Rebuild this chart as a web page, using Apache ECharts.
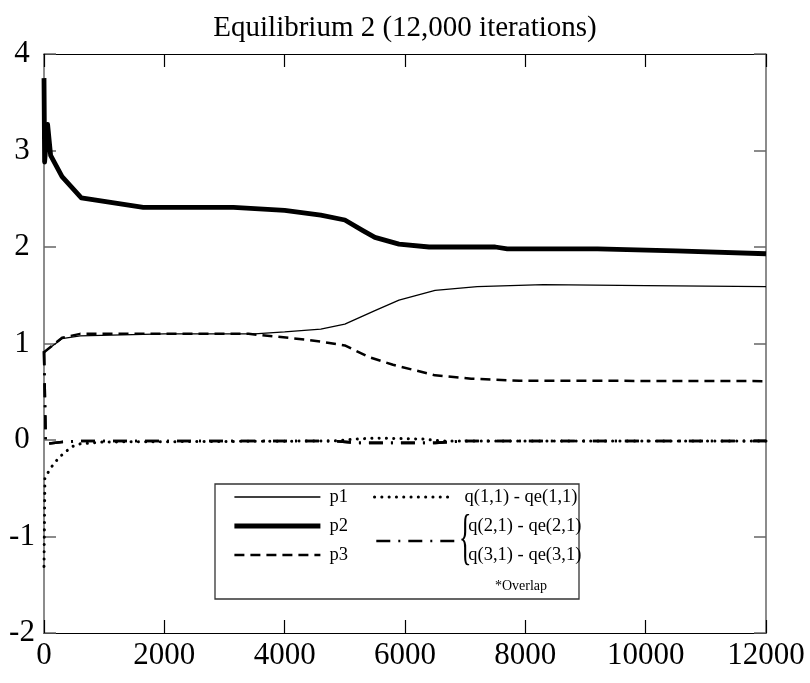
<!DOCTYPE html>
<html>
<head>
<meta charset="utf-8">
<script src="https://cdn.jsdelivr.net/npm/echarts@6/dist/echarts.min.js"></script>
<style>html,body{margin:0;padding:0;background:#fff;}#c{width:810px;height:683px;}</style>
</head>
<body>
<div id="c"></div>
<script>
const titleText = 'Equilibrium 2 (12,000 iterations)';
const xTicks = [0, 2000, 4000, 6000, 8000, 10000, 12000];
const yTicks = [-2, -1, 0, 1, 2, 3, 4];
const seriesNames = ['p1', 'p2', 'p3', 'q(1,1) - qe(1,1)', 'q(2,1) - qe(2,1)', 'q(3,1) - qe(3,1)'];

const p1 = [[0,0.91],[300,1.05],[600,1.08],[2000,1.1],[3500,1.1],[4000,1.12],[4600,1.15],[5000,1.2],[5500,1.34],[5900,1.45],[6500,1.55],[7200,1.59],[8300,1.61],[10000,1.6],[12000,1.59]];
const p2 = [[0,3.75],[10,2.88],[60,3.27],[110,2.95],[300,2.73],[620,2.51],[1650,2.41],[3150,2.41],[4000,2.38],[4600,2.33],[5000,2.28],[5300,2.17],[5500,2.1],[5900,2.03],[6400,2.0],[7500,2.0],[7700,1.98],[9200,1.98],[10500,1.96],[12000,1.93]];
const p3 = [[0,0.91],[300,1.06],[600,1.1],[3400,1.1],[4200,1.05],[4600,1.02],[5000,0.98],[5400,0.86],[5800,0.78],[6500,0.67],[7100,0.635],[7900,0.615],[12000,0.61]];
const q1 = [[0,-1.31],[15,-0.4],[90,-0.31],[170,-0.24],[270,-0.17],[460,-0.07],[600,-0.04],[1000,-0.02],[4800,-0.01],[5200,0.01],[5500,0.02],[6300,0.01],[6600,-0.01],[12000,-0.01]];
const q2 = [[0,0.92],[30,-0.04],[300,-0.02],[600,-0.01],[4800,-0.01],[5200,-0.03],[6500,-0.03],[7000,-0.01],[12000,-0.01]];
const q3 = [[0,0.92],[30,-0.04],[300,-0.02],[600,-0.01],[4800,-0.01],[5200,-0.03],[6500,-0.03],[7000,-0.01],[12000,-0.01]];

const FONT = 'Liberation Serif';
const chart = echarts.init(document.getElementById('c'), null, {renderer: 'canvas'});

const axisCommonX = {
  type: 'value', min: xTicks[0], max: xTicks[xTicks.length - 1], interval: 2000,
  splitLine: {show: false},
  axisLine: {show: true, onZero: false, lineStyle: {color: '#000', width: 1.2}},
  axisTick: {show: true, inside: true, length: 13, lineStyle: {color: '#000', width: 1.2}}
};
const axisCommonY = {
  type: 'value', min: yTicks[0], max: yTicks[yTicks.length - 1], interval: 1,
  splitLine: {show: false},
  axisLine: {show: true, onZero: false, lineStyle: {color: '#666', width: 1.5}},
  axisTick: {show: true, inside: true, length: 12, lineStyle: {color: '#666', width: 1.5}}
};

const dashDot = [14, 8, 2, 8];
const legendText = {fontFamily: FONT, fontSize: 18.5, color: '#000', lineHeight: 20};

chart.setOption({
  animation: false,
  backgroundColor: '#fff',
  title: {
    text: titleText, left: 'center', top: 9,
    textStyle: {fontFamily: FONT, fontSize: 29, fontWeight: 'normal', color: '#000'}
  },
  grid: {left: 44, right: 44, top: 54, bottom: 50, containLabel: false},
  xAxis: [
    Object.assign({}, axisCommonX, {position: 'bottom',
      axisLabel: {show: true, margin: 7, fontFamily: FONT, fontSize: 31, color: '#000',
        formatter: function (v) { return String(v); }}}),
    Object.assign({}, axisCommonX, {position: 'top', axisLabel: {show: false}})
  ],
  yAxis: [
    Object.assign({}, axisCommonY, {position: 'left',
      axisLabel: {show: true, margin: 22, align: 'center', fontFamily: FONT, fontSize: 31, color: '#000',
        formatter: function (v) { return String(v); }}}),
    Object.assign({}, axisCommonY, {position: 'right', axisLabel: {show: false}})
  ],
  legend: [
    {
      data: [
        {name: seriesNames[0], lineStyle: {width: 1.3}},
        {name: seriesNames[1], lineStyle: {width: 4.8}},
        {name: seriesNames[2], lineStyle: {width: 2.5}}
      ],
      orient: 'vertical', left: 232, top: 487, padding: 0,
      itemWidth: 86, itemHeight: 14, itemGap: 9,
      itemStyle: {opacity: 0},
      textStyle: Object.assign({}, legendText, {padding: [0, 0, 0, 4]}),
      selectedMode: false
    },
    {
      data: [{name: seriesNames[3], lineStyle: {width: 3}}],
      orient: 'vertical', left: 373, top: 487, padding: 0,
      itemWidth: 80, itemHeight: 14,
      itemStyle: {opacity: 0},
      textStyle: Object.assign({}, legendText, {padding: [0, 0, 0, 5]}),
      selectedMode: false
    },
    {
      data: [{name: seriesNames[4], lineStyle: {width: 2.6}}],
      orient: 'vertical', left: 375, top: 512, padding: 0,
      itemWidth: 80, itemHeight: 14,
      itemStyle: {opacity: 0},
      formatter: function () { return seriesNames[4] + '\n' + seriesNames[5]; },
      textStyle: Object.assign({}, legendText, {lineHeight: 29, padding: [0, 0, 0, 7]}),
      selectedMode: false
    }
  ],
  graphic: [
    {type: 'rect', shape: {x: 215, y: 484, width: 364, height: 115},
      style: {fill: 'none', stroke: '#333', lineWidth: 1.3}, z: 1},
    {type: 'text', x: 459, y: 541, scaleX: 0.42,
      style: {text: '{', font: '62px "Liberation Serif"', fill: '#000', textAlign: 'left', textVerticalAlign: 'middle'}, z: 5},
    {type: 'text', x: 521, y: 586,
      style: {text: '*Overlap', font: '14px "Liberation Serif"', fill: '#000', textAlign: 'center', textVerticalAlign: 'middle'}, z: 5}
  ],
  series: [
    {name: seriesNames[0], type: 'line', data: p1, symbol: 'none', z: 3,
      lineStyle: {color: '#000', width: 1.3}, itemStyle: {color: '#000'}},
    {name: seriesNames[1], type: 'line', data: p2, symbol: 'none', z: 4,
      lineStyle: {color: '#000', width: 4.8, join: 'round'}, itemStyle: {color: '#000'}},
    {name: seriesNames[2], type: 'line', data: p3, symbol: 'none', z: 3,
      lineStyle: {color: '#000', width: 2.5, type: [10, 6]}, itemStyle: {color: '#000'}},
    {name: seriesNames[3], type: 'line', data: q1, symbol: 'none', z: 3,
      lineStyle: {color: '#000', width: 3, type: [0.1, 7.2], cap: 'round'}, itemStyle: {color: '#000'}},
    {name: seriesNames[4], type: 'line', data: q2, symbol: 'none', z: 3,
      lineStyle: {color: '#000', width: 2.6, type: dashDot}, itemStyle: {color: '#000'}},
    {name: seriesNames[5], type: 'line', data: q3, symbol: 'none', z: 3,
      lineStyle: {color: '#000', width: 2.6, type: dashDot}, itemStyle: {color: '#000'}}
  ]
});
</script>
</body>
</html>
